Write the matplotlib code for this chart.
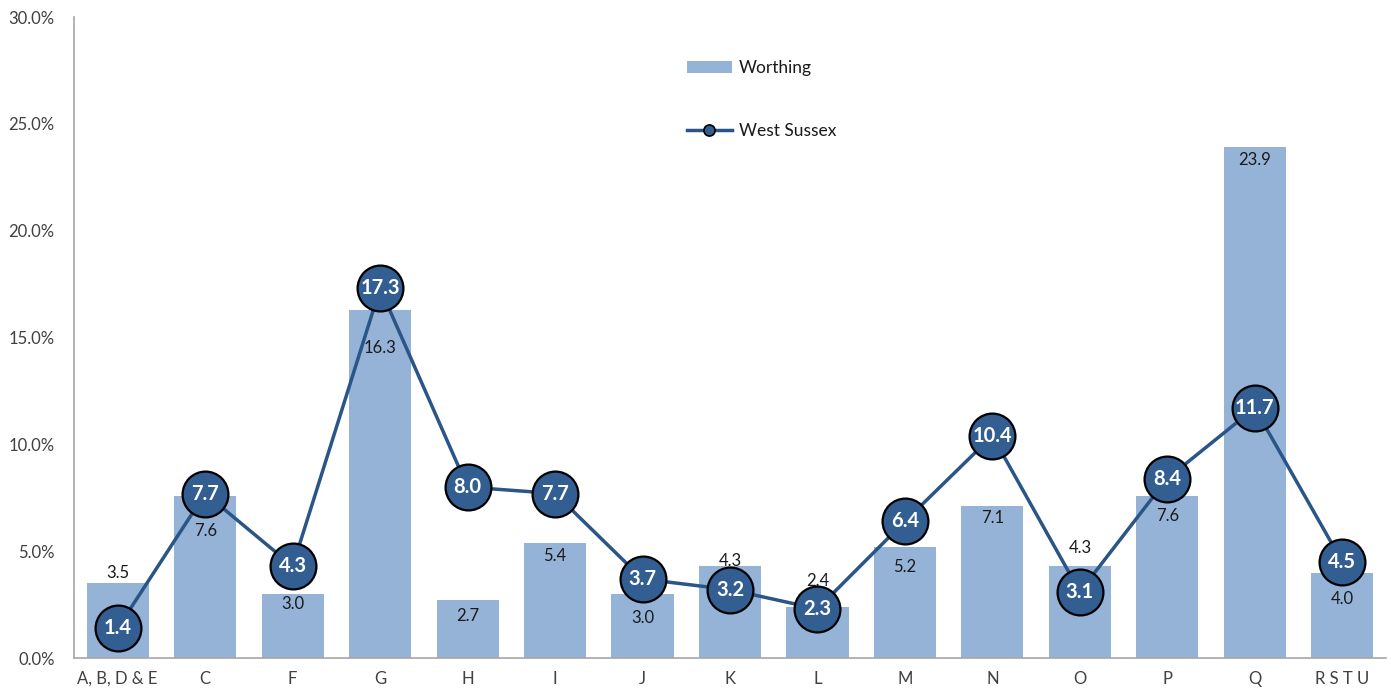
import matplotlib
matplotlib.use("Agg")
import matplotlib.pyplot as plt
from matplotlib.patches import Patch
from matplotlib.lines import Line2D
import numpy as np

plt.rcParams['font.family'] = ['Lato', 'DejaVu Sans']

categories = ['A, B, D & E', 'C', 'F', 'G', 'H', 'I', 'J', 'K', 'L', 'M', 'N', 'O', 'P', 'Q', 'R S T U']
worthing = [3.5, 7.6, 3.0, 16.3, 2.7, 5.4, 3.0, 4.3, 2.4, 5.2, 7.1, 4.3, 7.6, 23.9, 4.0]
west_sussex = [1.4, 7.7, 4.3, 17.3, 8.0, 7.7, 3.7, 3.2, 2.3, 6.4, 10.4, 3.1, 8.4, 11.7, 4.5]
# vertical pixel offset of each bar label relative to the bar top
label_offsets = [10, -35, -10, -38, -16, -13, -24, 5, 26, -20, -12, 18, -20, -13, -26]

bar_color = '#95B3D7'
line_color = '#2A5587'
marker_color = '#335E92'
text_color = '#404040'

fig = plt.figure(figsize=(13.91, 6.95), dpi=100)
ax = fig.add_axes([0.0532, 0.0532, 0.9432, 0.9223])

x = np.arange(len(categories))
ax.bar(x, worthing, width=0.71, color=bar_color, label='Worthing', zorder=1)
ax.plot(x, west_sussex, color=line_color, lw=2.5, marker='o', markersize=33,
        markerfacecolor=marker_color, markeredgecolor='black', markeredgewidth=1.6,
        zorder=3)

for xi, v, off in zip(x, worthing, label_offsets):
    ax.annotate(f'{v:.1f}', (xi, v), xytext=(0, off), textcoords='offset pixels',
                ha='center', va='center', fontsize=12, color='#1a1a1a', zorder=2)

for xi, v in zip(x, west_sussex):
    ax.text(xi, v, f'{v:.1f}', ha='center', va='center', fontsize=14.5,
            fontweight='bold', color='white', zorder=4)

ax.set_xlim(-0.5, len(categories) - 0.5)
ax.set_ylim(0, 30)
ax.set_yticks(np.arange(0, 31, 5))
ax.set_yticklabels([f'{t:.1f}%' for t in np.arange(0, 31, 5)])
ax.set_xticks(x)
ax.set_xticklabels(categories)
ax.tick_params(axis='both', length=0, labelsize=12, colors=text_color, pad=9)
ax.tick_params(axis='y', pad=14)

for s in ['top', 'right']:
    ax.spines[s].set_visible(False)
for s in ['left', 'bottom']:
    ax.spines[s].set_color('#A6A6A6')
    ax.spines[s].set_linewidth(1.2)

handles = [Patch(facecolor=bar_color, edgecolor='none'),
           Line2D([0], [0], color=line_color, lw=2.5, marker='o', markersize=8,
                  markerfacecolor=marker_color, markeredgecolor='black', markeredgewidth=1.2)]
ax.legend(handles, ['Worthing', 'West Sussex'], loc='upper left',
          bbox_to_anchor=(0.455, 0.957), frameon=False, fontsize=12.5,
          labelspacing=2.7, handlelength=2.6, handletextpad=0.4,
          labelcolor='#1a1a1a')

fig.savefig('out.png', dpi=100)
